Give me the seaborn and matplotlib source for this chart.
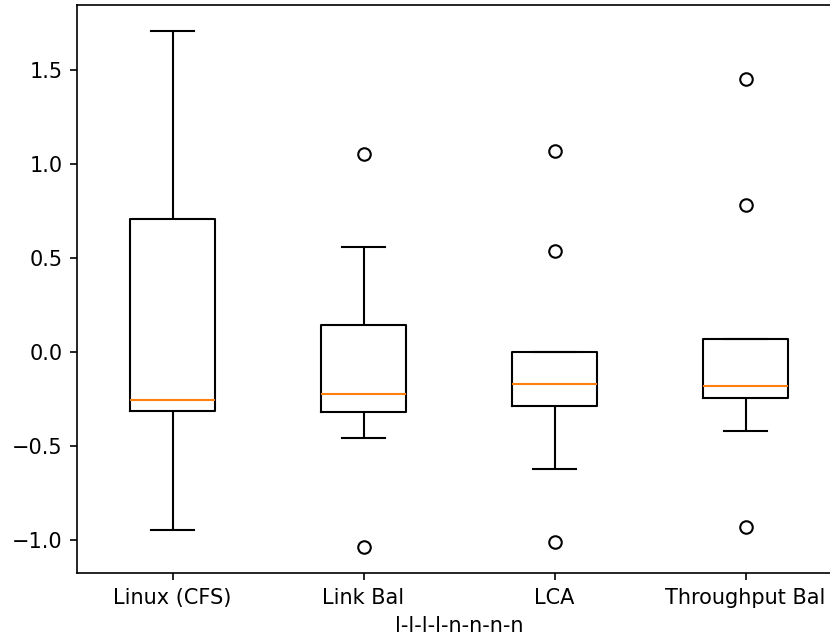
import pandas as pd
import seaborn as sns
import matplotlib.pyplot as plt

# scheduler names, in plotting order
schedulers = ["Linux (CFS)", "Link Bal", "LCA", "Throughput Bal"]

# normalised samples per scheduler
linux_cfs = [-0.95, -0.60, -0.313, -0.28, -0.255, 0.20, 0.706, 1.20, 1.71]
link_bal = [-1.04, -0.456, -0.40, -0.318, -0.29, -0.25, -0.223, -0.10, 0.0,
            0.143, 0.35, 0.557, 1.056]
lca = [-1.01, -0.621, -0.40, -0.287, -0.25, -0.20, -0.17, -0.10, -0.05,
       0.0, 0.0, 0.54, 1.07]
throughput_bal = [-0.935, -0.419, -0.30, -0.244, -0.22, -0.20, -0.18, -0.10,
                  0.0, 0.069, 0.069, 0.78, 1.455]

samples = [linux_cfs, link_bal, lca, throughput_bal]
rows = []
for name, vals in zip(schedulers, samples):
    for v in vals:
        rows.append({"scheduler": name, "value": v})
df = pd.DataFrame(rows)

fig = plt.figure(figsize=(830 / 150, 643 / 150), dpi=150)
ax = fig.add_axes([77 / 830, 70 / 643, 764 / 830, 568 / 643])

sns.boxplot(data=df, x="scheduler", y="value", order=schedulers, ax=ax,
            fill=False, color="black", linecolor="black", width=0.45,
            linewidth=1.0, whis=1.5,
            medianprops={"color": "#ff7f0e"},
            flierprops={"marker": "o", "markersize": 6,
                        "markerfacecolor": "none",
                        "markeredgecolor": "black"})

ax.set_xlabel("l-l-l-l-n-n-n-n")
ax.set_ylabel("")

fig.savefig("out.png", dpi=150)
